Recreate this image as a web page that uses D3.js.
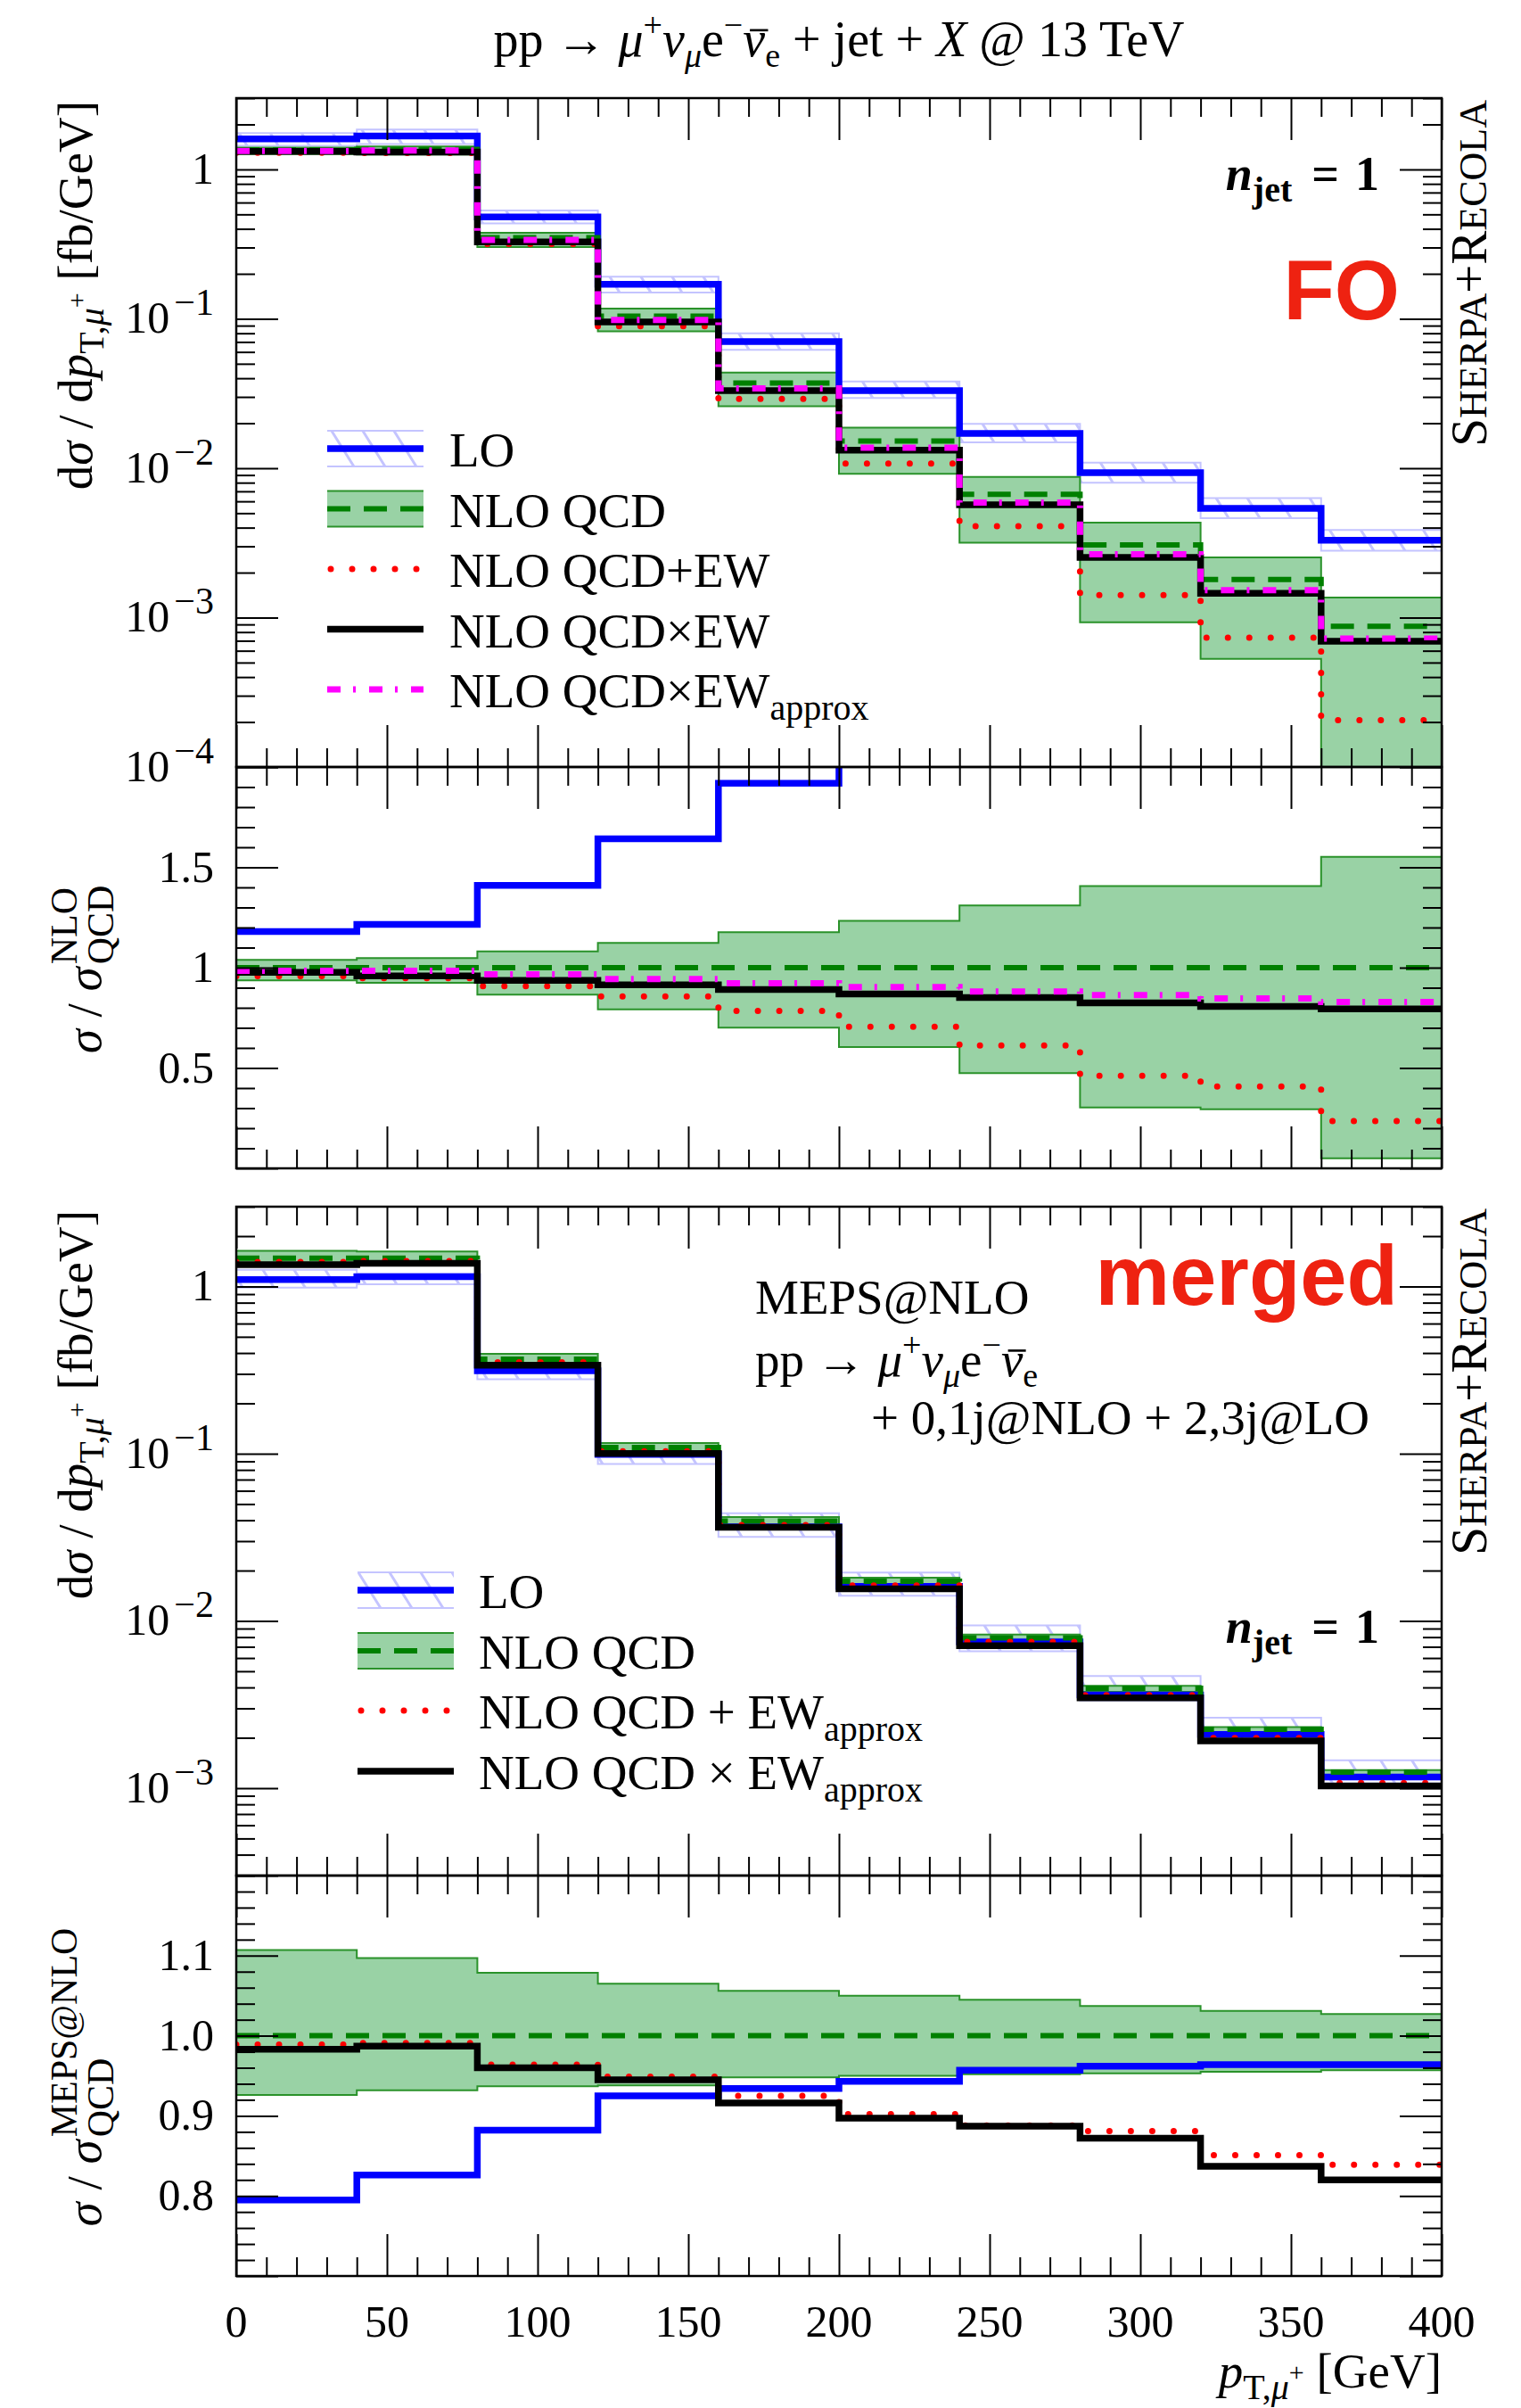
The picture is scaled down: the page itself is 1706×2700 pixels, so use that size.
<!DOCTYPE html>
<html><head><meta charset="utf-8">
<script src="https://cdn.jsdelivr.net/npm/d3@7/dist/d3.min.js"></script>
<style>
html,body{margin:0;padding:0;background:#fff;}
svg text{font-family:"Liberation Serif","DejaVu Serif",serif;fill:#000;white-space:pre;}
</style></head>
<body>
<svg id="chart" width="1706" height="2700" xmlns="http://www.w3.org/2000/svg"></svg>
<script>
// ---------------- data ----------------
const binEdges = [0, 40, 80, 120, 160, 200, 240, 280, 320, 360, 400];
const xTickValues = [0, 50, 100, 150, 200, 250, 300, 350, 400];

// fixed order (FO), absolute [fb/GeV]
const foLO        = [1.60, 1.67, 0.481, 0.170, 0.0705, 0.0331, 0.0171, 0.00933, 0.00538, 0.00329];
const foLOUp      = [1.75, 1.85, 0.53, 0.191, 0.080, 0.038, 0.0198, 0.0109, 0.0063, 0.00386];
const foLODown    = [1.44, 1.48, 0.435, 0.150, 0.062, 0.0295, 0.0149, 0.0080, 0.00463, 0.0028];
const foNLO       = [1.35, 1.36, 0.349, 0.104, 0.0371, 0.0152, 0.00668, 0.00307, 0.00180, 0.000873];
const foNLOUp     = [1.40, 1.425, 0.377, 0.117, 0.0437, 0.0187, 0.00875, 0.00432, 0.00253, 0.00136];
const foNLODown   = [1.265, 1.258, 0.302, 0.0824, 0.0260, 0.00918, 0.00317, 0.00093, 0.00053, 0.0000437];
const foPlusEW    = [1.293, 1.289, 0.317, 0.0891, 0.0291, 0.01073, 0.00409, 0.001415, 0.000734, 0.000206];
const foTimesEW   = [1.319, 1.304, 0.327, 0.0951, 0.0331, 0.0132, 0.00568, 0.00253, 0.001453, 0.000694];
const foTimesEWap = [1.328, 1.338, 0.3375, 0.0981, 0.0342, 0.01373, 0.00589, 0.00265, 0.001525, 0.000724];

// FO ratio to NLO QCD
const r1LO        = [1.18, 1.216, 1.41, 1.642, 1.919, 2.18, 2.56, 3.04, 2.99, 3.77];
const r1NLO       = [1, 1, 1, 1, 1, 1, 1, 1, 1, 1];
const r1NLOUp     = [1.039, 1.048, 1.081, 1.123, 1.177, 1.233, 1.310, 1.407, 1.407, 1.552];
const r1NLODown   = [0.937, 0.925, 0.866, 0.792, 0.701, 0.604, 0.474, 0.303, 0.294, 0.050];
const r1PlusEW    = [0.958, 0.948, 0.908, 0.857, 0.785, 0.706, 0.612, 0.461, 0.408, 0.236];
const r1TimesEW   = [0.977, 0.959, 0.937, 0.914, 0.891, 0.869, 0.851, 0.825, 0.807, 0.795];
const r1TimesEWap = [0.984, 0.984, 0.967, 0.943, 0.922, 0.903, 0.881, 0.863, 0.847, 0.829];

// merged (MEPS@NLO), absolute [fb/GeV]
const mgLO        = [1.10, 1.145, 0.313, 0.099, 0.0365, 0.0161, 0.0075, 0.00361, 0.002095, 0.001164];
const mgLOUp      = [1.257, 1.19, 0.36, 0.113, 0.0441, 0.01945, 0.0094, 0.00468, 0.00264, 0.001466];
const mgLODown    = [0.984, 1.03, 0.279, 0.0868, 0.0318, 0.01413, 0.00659, 0.00334, 0.00189, 0.001067];
const mgNLO       = [1.476, 1.476, 0.367, 0.1088, 0.0396, 0.01725, 0.00792, 0.00395, 0.002245, 0.001246];
const mgNLOUp     = [1.634, 1.619, 0.3958, 0.1159, 0.0418, 0.01811, 0.00828, 0.004096, 0.002315, 0.00128];
const mgNLODown   = [1.367, 1.376, 0.3439, 0.1021, 0.03754, 0.01639, 0.00754, 0.003764, 0.002144, 0.001192];
const mgPlusEWap  = [1.40, 1.42, 0.352, 0.1035, 0.0374, 0.0163, 0.0075, 0.0036, 0.001995, 0.001074];
const mgTimesEWap = [1.349, 1.377, 0.338, 0.1002, 0.0363, 0.01556, 0.0071, 0.00347, 0.001914, 0.001031];

// merged ratio to MEPS@NLO QCD
const r2LO        = [0.795, 0.826, 0.882, 0.925, 0.934, 0.943, 0.957, 0.962, 0.964, 0.964];
const r2NLO       = [1, 1, 1, 1, 1, 1, 1, 1, 1, 1];
const r2NLOUp     = [1.107, 1.097, 1.0785, 1.065, 1.056, 1.050, 1.045, 1.037, 1.031, 1.027];
const r2NLODown   = [0.926, 0.932, 0.937, 0.938, 0.948, 0.950, 0.952, 0.953, 0.955, 0.957];
const r2PlusEWap  = [0.989, 0.991, 0.964, 0.949, 0.925, 0.902, 0.888, 0.881, 0.851, 0.839];
const r2TimesEWap = [0.983, 0.987, 0.960, 0.945, 0.916, 0.897, 0.887, 0.872, 0.837, 0.820];

// ---------------- layout ----------------
const X0 = 265, X1 = 1617;
const svg = d3.select("#chart");
const defs = svg.append("defs");
const x = d3.scaleLinear().domain([0, 400]).range([X0, X1]);
const y1 = d3.scaleLog().domain([1e-4, 3]).range([860, 110]);
const yr1 = d3.scaleLinear().domain([0, 2]).range([1310, 860]);
const y2 = d3.scaleLog().domain([3e-4, 3]).range([2103, 1353]);
const yr2 = d3.scaleLinear().domain([0.7, 1.2]).range([2552, 2103]);

const C = {
  LO: "#0000ff", NLO: "#008000", band: "#99d2a5", bandEdge: "#2a922a",
  hatch: "#c4c4ff", red: "#ff0000", black: "#000000", mag: "#ff00ff", label: "#ee2211"
};
const STY = {
  LO:    {stroke: C.LO, w: 7.5},
  NLO:   {stroke: C.NLO, w: 6, dash: "26 15"},
  plus:  {stroke: C.red, w: 7, dash: "0 24", cap: "round"},
  times: {stroke: C.black, w: 7.5},
  approx:{stroke: C.mag, w: 7, dash: "15 14 3 15"}
};

const pat = defs.append("pattern").attr("id", "hatch").attr("patternUnits", "userSpaceOnUse")
  .attr("width", 35).attr("height", 56);
pat.append("path").attr("d", "M-5,-8L40,64M30,-8L75,64M-40,-8L5,64")
  .attr("stroke", C.hatch).attr("stroke-width", 3).attr("fill", "none");

function clipGroup(id, top, bottom) {
  defs.append("clipPath").attr("id", id).append("rect")
    .attr("x", X0).attr("y", top).attr("width", X1 - X0).attr("height", bottom - top);
  return svg.append("g").attr("clip-path", `url(#${id})`);
}
const stepPts = vals => binEdges.map((e, i) => ({x: e, v: vals[Math.min(i, vals.length - 1)]}));
const lineGen = yS => d3.line().x(d => x(d.x)).y(d => yS(d.v)).curve(d3.curveStepAfter);
const areaGen = yS => d3.area().x(d => x(d.x)).y0(d => yS(d.lo)).y1(d => yS(d.hi)).curve(d3.curveStepAfter);

function drawLine(g, yS, vals, s) {
  g.append("path").datum(stepPts(vals)).attr("d", lineGen(yS)).attr("fill", "none")
    .attr("stroke", s.stroke).attr("stroke-width", s.w)
    .attr("stroke-dasharray", s.dash || null).attr("stroke-linecap", s.cap || "butt");
}
function drawBand(g, yS, lo, hi, kind) {
  const pts = binEdges.map((e, i) => ({x: e, lo: lo[Math.min(i, 9)], hi: hi[Math.min(i, 9)]}));
  g.append("path").datum(pts).attr("d", areaGen(yS))
    .attr("fill", kind === "LO" ? "url(#hatch)" : C.band);
  const ec = kind === "LO" ? C.hatch : C.bandEdge;
  [hi, lo].forEach(v => g.append("path").datum(stepPts(v)).attr("d", lineGen(yS))
    .attr("fill", "none").attr("stroke", ec).attr("stroke-width", 2));
}

// ---------- panel 1 : FO ----------
const g1 = clipGroup("c1", 110, 860);
drawBand(g1, y1, foLODown, foLOUp, "LO");
drawBand(g1, y1, foNLODown, foNLOUp, "NLO");
drawLine(g1, y1, foLO, STY.LO);
drawLine(g1, y1, foNLO, STY.NLO);
drawLine(g1, y1, foPlusEW, STY.plus);
drawLine(g1, y1, foTimesEW, STY.times);
drawLine(g1, y1, foTimesEWap, STY.approx);

const gr1 = clipGroup("cr1", 860, 1310);
drawBand(gr1, yr1, r1NLODown, r1NLOUp, "NLO");
drawLine(gr1, yr1, r1LO, STY.LO);
drawLine(gr1, yr1, r1NLO, STY.NLO);
drawLine(gr1, yr1, r1PlusEW, STY.plus);
drawLine(gr1, yr1, r1TimesEW, STY.times);
drawLine(gr1, yr1, r1TimesEWap, STY.approx);

// ---------- panel 2 : merged ----------
const g2 = clipGroup("c2", 1353, 2103);
drawBand(g2, y2, mgLODown, mgLOUp, "LO");
drawBand(g2, y2, mgNLODown, mgNLOUp, "NLO");
drawLine(g2, y2, mgLO, STY.LO);
drawLine(g2, y2, mgNLO, STY.NLO);
drawLine(g2, y2, mgPlusEWap, STY.plus);
drawLine(g2, y2, mgTimesEWap, STY.times);

const gr2 = clipGroup("cr2", 2103, 2552);
drawBand(gr2, yr2, r2NLODown, r2NLOUp, "NLO");
drawLine(gr2, yr2, r2LO, STY.LO);
drawLine(gr2, yr2, r2NLO, STY.NLO);
drawLine(gr2, yr2, r2PlusEWap, STY.plus);
drawLine(gr2, yr2, r2TimesEWap, STY.times);

// ---------- frames & ticks ----------
function logTicks(dom) {
  const major = [], minor = [];
  for (let k = -5; k <= 1; k++) for (let m = 1; m <= 9; m++) {
    const v = m * Math.pow(10, k);
    if (v < dom[0] * 0.999 || v > dom[1] * 1.001) continue;
    (m === 1 ? major : minor).push(v);
  }
  return {major, minor};
}
function linTicks(i0, i1, div, every) {
  const major = [], minor = [];
  for (let i = i0; i <= i1; i++) ((i % every === 0) ? major : minor).push(i / div);
  return {major, minor};
}
function frame(top, bottom, yS, yt) {
  const g = svg.append("g");
  const mk = (axis, vals, size, tr) => {
    const a = g.append("g").attr("transform", tr)
      .call(axis.tickValues(vals).tickSize(size).tickFormat(""));
    a.select(".domain").remove();
    a.selectAll("line").attr("stroke", "#000").attr("stroke-width", 2);
  };
  const xMajor = d3.range(0, 401, 50), xMinor = d3.range(0, 401, 10).filter(v => v % 50);
  mk(d3.axisTop(x), xMajor, -47, `translate(0,${top})`);
  mk(d3.axisTop(x), xMinor, -21, `translate(0,${top})`);
  mk(d3.axisBottom(x), xMajor, -47, `translate(0,${bottom})`);
  mk(d3.axisBottom(x), xMinor, -21, `translate(0,${bottom})`);
  mk(d3.axisLeft(yS), yt.major, -47, `translate(${X0},0)`);
  mk(d3.axisLeft(yS), yt.minor, -21, `translate(${X0},0)`);
  mk(d3.axisRight(yS), yt.major, -47, `translate(${X1},0)`);
  mk(d3.axisRight(yS), yt.minor, -21, `translate(${X1},0)`);
  svg.append("rect").attr("x", X0).attr("y", top).attr("width", X1 - X0).attr("height", bottom - top)
    .attr("fill", "none").attr("stroke", "#000").attr("stroke-width", 2.5);
}
frame(110, 860, y1, logTicks(y1.domain()));
frame(860, 1310, yr1, linTicks(0, 20, 10, 5));
frame(1353, 2103, y2, logTicks(y2.domain()));
frame(2103, 2552, yr2, linTicks(35, 60, 50, 5));

// ---------- tick labels ----------
function logLabel(yS, k) {
  const t = svg.append("text").attr("x", 240).attr("y", yS(Math.pow(10, k)) + 16)
    .attr("text-anchor", "end").attr("font-size", 50);
  if (k === 0) t.text("1");
  else {
    t.append("tspan").text("10");
    t.append("tspan").attr("font-size", 42).attr("dx", 5).attr("dy", -20).text("\u2212" + (-k));
  }
}
[0, -1, -2, -3, -4].forEach(k => logLabel(y1, k));
[0, -1, -2, -3].forEach(k => logLabel(y2, k));
const r1Labels = [[1.5, "1.5"], [1, "1"], [0.5, "0.5"]];
const r2Labels = [[1.1, "1.1"], [1.0, "1.0"], [0.9, "0.9"], [0.8, "0.8"]];
r1Labels.forEach(([v, s]) => svg.append("text").attr("x", 240).attr("y", yr1(v) + 16)
  .attr("text-anchor", "end").attr("font-size", 50).text(s));
r2Labels.forEach(([v, s]) => svg.append("text").attr("x", 240).attr("y", yr2(v) + 16)
  .attr("text-anchor", "end").attr("font-size", 50).text(s));
xTickValues.forEach(v => svg.append("text").attr("x", x(v)).attr("y", 2620)
  .attr("text-anchor", "middle").attr("font-size", 50).text(String(v)));

// ---------- helper for rich text ----------
function rich(t, parts) {
  parts.forEach(([txt, o]) => {
    const s = t.append("tspan").text(txt);
    if (o) for (const k in o) s.attr(k, o[k]);
  });
  return t;
}
const IT = {"font-style": "italic"};
function macron(textSel, idx, fs) {
  const n = textSel.node();
  const s = n.getStartPositionOfChar(idx), e = n.getEndPositionOfChar(idx);
  const yy = s.y - 0.52 * fs;
  svg.append("line").attr("x1", s.x + 0.14 * fs).attr("x2", e.x + 0.06 * fs)
    .attr("y1", yy).attr("y2", yy).attr("stroke", "#000").attr("stroke-width", 2.6);
}
const processParts = [
  ["pp \u2192 "], ["\u03bc", IT], ["+", {"font-size": 38, dy: -22}],
  ["\u03bd", {"font-style": "italic", dy: 22}], ["\u03bc", {"font-style": "italic", "font-size": 38, dy: 12}],
  ["e", {dy: -12}], ["\u2212", {"font-size": 38, dy: -22}],
  ["\u03bd", {"font-style": "italic", dy: 22}], ["e", {"font-size": 38, dy: 12}]
];

// title
const title = rich(svg.append("text").attr("x", 941).attr("y", 63).attr("text-anchor", "middle").attr("font-size", 56),
  processParts.concat([[" + jet + ", {dy: -12}], ["X", IT], [" @ 13 TeV"]]));
macron(title, 11, 56);

// y titles main
function yTitleMain(yEnd) {
  rich(svg.append("text").attr("transform", `translate(103,${yEnd}) rotate(-90)`)
    .attr("text-anchor", "end").attr("font-size", 55), [
    ["d"], ["\u03c3", IT], [" / d"], ["p", IT],
    ["T,", {"font-size": 40, dy: 13}], ["\u03bc", {"font-size": 40, "font-style": "italic"}],
    ["+", {"font-size": 30, dy: -20}], [" [fb/GeV]", {dy: 7}]
  ]);
}
yTitleMain(113);
yTitleMain(1357);

function yTitleRatio(yc, supText) {
  const outer = svg.append("g").attr("transform", `translate(113,${yc}) rotate(-90)`);
  const g = outer.append("g");
  const main = rich(g.append("text").attr("font-size", 55), [["\u03c3", IT], [" / "], ["\u03c3", IT]]);
  const L = main.node().getComputedTextLength() + 3;
  const sup = g.append("text").attr("font-size", 42).attr("x", L).attr("y", -27).text(supText);
  const sub = g.append("text").attr("font-size", 42).attr("x", L).attr("y", 14).text("QCD");
  const total = L + Math.max(sup.node().getComputedTextLength(), sub.node().getComputedTextLength());
  g.attr("transform", `translate(${-total / 2},0)`);
}
yTitleRatio(1087, "NLO");
yTitleRatio(2329, "MEPS@NLO");

// x title
rich(svg.append("text").attr("x", 1617).attr("y", 2677).attr("text-anchor", "end").attr("font-size", 55), [
  ["p", IT], ["T,", {"font-size": 40, dy: 13}], ["\u03bc", {"font-size": 40, "font-style": "italic"}],
  ["+", {"font-size": 30, dy: -20}], [" [GeV]", {dy: 7}]
]);

// Sherpa+Recola
function sherpa(yTop) {
  rich(svg.append("text").attr("transform", `translate(1667,${yTop}) rotate(-90)`)
    .attr("text-anchor", "end").attr("font-size", 57), [
    ["S"], ["HERPA", {"font-size": 44}], ["+R"], ["ECOLA", {"font-size": 44}]
  ]);
}
sherpa(112);
sherpa(1355);

// n_jet = 1
function njet(yBase) {
  rich(svg.append("text").attr("x", 1547).attr("y", yBase).attr("text-anchor", "end")
    .attr("font-size", 54).attr("font-weight", "bold"), [
    ["n", IT], ["jet", {"font-size": 40, dy: 13}], ["=", {dy: -13, dx: 22}], ["1", {dx: 18}]
  ]);
}
njet(213);
njet(1842);

// FO / merged labels
svg.append("text").attr("x", 1570).attr("y", 358).attr("text-anchor", "end")
  .style("font-family", "'Liberation Sans', Arial, sans-serif").attr("font-weight", "bold")
  .attr("font-size", 94).style("fill", C.label).text("FO");
svg.append("text").attr("x", 1568).attr("y", 1463).attr("text-anchor", "end")
  .style("font-family", "'Liberation Sans', Arial, sans-serif").attr("font-weight", "bold")
  .attr("font-size", 94).style("fill", C.label).text("merged");

// MEPS@NLO block
svg.append("text").attr("x", 847).attr("y", 1473).attr("font-size", 55).text("MEPS@NLO");
const proc2 = rich(svg.append("text").attr("x", 847).attr("y", 1543).attr("font-size", 55), processParts);
macron(proc2, 11, 55);
svg.append("text").attr("x", 1536).attr("y", 1608).attr("text-anchor", "end").attr("font-size", 55)
  .text("+ 0,1j@NLO + 2,3j@LO");

// ---------- legends ----------
function legendEntry(lineY, sx0, sx1, tx, kind, parts) {
  const g = svg.append("g");
  if (kind === "LO" || kind === "NLO") {
    g.append("rect").attr("x", sx0).attr("y", lineY - 20).attr("width", sx1 - sx0).attr("height", 40)
      .attr("fill", kind === "LO" ? "url(#hatch)" : C.band);
    const ec = kind === "LO" ? C.hatch : C.bandEdge;
    [lineY - 20, lineY + 20].forEach(yy => g.append("line").attr("x1", sx0).attr("x2", sx1)
      .attr("y1", yy).attr("y2", yy).attr("stroke", ec).attr("stroke-width", 2));
  }
  const s = STY[kind];
  g.append("line").attr("x1", sx0 + (kind === "plus" ? 4 : 0)).attr("x2", sx1).attr("y1", lineY).attr("y2", lineY)
    .attr("stroke", s.stroke).attr("stroke-width", s.w)
    .attr("stroke-dasharray", s.dash || null).attr("stroke-linecap", s.cap || "butt");
  rich(g.append("text").attr("x", tx).attr("y", lineY + 20).attr("font-size", 55), parts);
}
const leg1Y = [503, 570.5, 638, 705.5, 773];
legendEntry(leg1Y[0], 367, 475, 504, "LO", [["LO"]]);
legendEntry(leg1Y[1], 367, 475, 504, "NLO", [["NLO QCD"]]);
legendEntry(leg1Y[2], 367, 475, 504, "plus", [["NLO QCD+EW"]]);
legendEntry(leg1Y[3], 367, 475, 504, "times", [["NLO QCD\u00d7EW"]]);
legendEntry(leg1Y[4], 367, 475, 504, "approx", [["NLO QCD\u00d7EW"], ["approx", {"font-size": 40, dy: 14}]]);

const leg2Y = [1783, 1851, 1918, 1986];
legendEntry(leg2Y[0], 401, 509, 537, "LO", [["LO"]]);
legendEntry(leg2Y[1], 401, 509, 537, "NLO", [["NLO QCD"]]);
legendEntry(leg2Y[2], 401, 509, 537, "plus", [["NLO QCD + EW"], ["approx", {"font-size": 40, dy: 14}]]);
legendEntry(leg2Y[3], 401, 509, 537, "times", [["NLO QCD \u00d7 EW"], ["approx", {"font-size": 40, dy: 14}]]);
</script>
</body></html>
